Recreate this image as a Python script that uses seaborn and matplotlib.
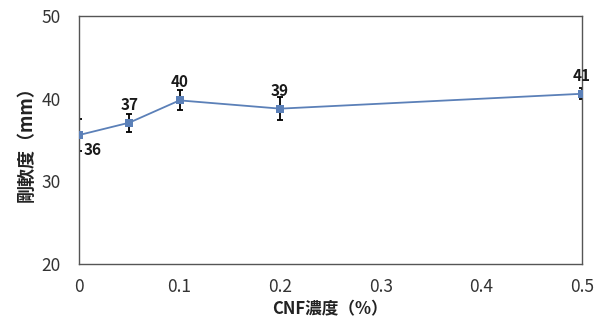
import matplotlib
matplotlib.use("Agg")
import matplotlib.pyplot as plt
import seaborn as sns
import pandas as pd

# CNF concentration (%) vs. bending stiffness (mm)
cnf_conc = [0.0, 0.05, 0.1, 0.2, 0.5]
stiffness = [35.6, 37.1, 39.8, 38.8, 40.6]
stiffness_err = [1.9, 1.1, 1.2, 1.4, 0.65]
x_ticks = [0, 0.1, 0.2, 0.3, 0.4, 0.5]
x_tick_labels = ["0", "0.1", "0.2", "0.3", "0.4", "0.5"]
y_ticks = [20, 30, 40, 50]

sns.set_theme(style="white")
plt.rcParams["font.family"] = ["Noto Sans CJK JP", "DejaVu Sans"]

df = pd.DataFrame({"conc": cnf_conc, "stiff": stiffness})

fig = plt.figure(figsize=(5.98, 3.23), dpi=100)
ax = fig.add_axes([0.132, 0.183, 0.841, 0.767])

line_color = "#5b80b8"
ax.errorbar(cnf_conc, stiffness, yerr=stiffness_err, fmt="none",
            ecolor="black", elinewidth=1.3, capsize=2.5, capthick=1.3, zorder=2)
sns.lineplot(data=df, x="conc", y="stiff", ax=ax, color=line_color,
             marker="s", markersize=5.5, markeredgewidth=0, linewidth=1.3, zorder=3)

# value labels
for i, (x, y) in enumerate(zip(cnf_conc, stiffness)):
    if i == 0:
        ax.annotate(f"{y:.0f}", (x, y), xytext=(10, -11), textcoords="offset points",
                    ha="center", va="center", fontsize=11, fontweight="bold", color="#1a1a1a")
    else:
        ax.annotate(f"{y:.0f}", (x, y), xytext=(0, 13), textcoords="offset points",
                    ha="center", va="center", fontsize=11, fontweight="bold", color="#1a1a1a")

ax.set_xlim(0, 0.5)
ax.set_ylim(20, 50)
ax.set_xticks(x_ticks)
ax.set_xticklabels(x_tick_labels)
ax.set_yticks(y_ticks)
ax.tick_params(axis="both", length=0, labelsize=12.5, colors="#333333")
ax.tick_params(axis="x", pad=10)
ax.tick_params(axis="y", pad=13)
for sp in ax.spines.values():
    sp.set_visible(True)
    sp.set_color("#555555")
    sp.set_linewidth(1.0)

ax.set_xlabel("CNF濃度（%）", fontsize=12, fontweight="bold", color="#222222", labelpad=3)
ax.set_ylabel("剛軟度（mm）", fontsize=13, fontweight="bold", color="#222222", labelpad=4)
ax.grid(False)

fig.savefig("out.png", dpi=100)
